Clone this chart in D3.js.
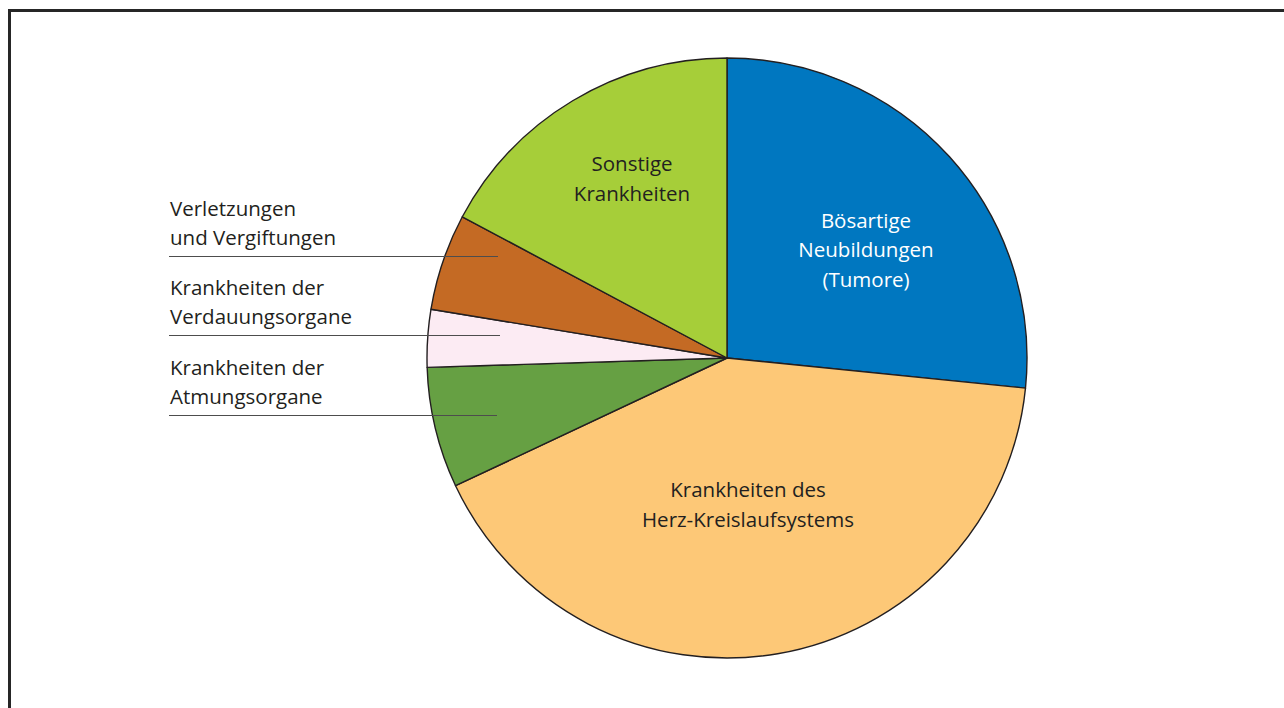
<!DOCTYPE html>
<html>
<head>
<meta charset="utf-8">
<script src="https://cdn.jsdelivr.net/npm/d3@7"></script>
<style>
  body { margin: 0; background: #fff; }
  svg { display: block; }
  text { font-family: "Open Sans", sans-serif; font-size: 20.5px; fill: #231f20; }
</style>
</head>
<body>
<script>
// Todesursachen - shares (percent)
const categories = [
  "Bösartige Neubildungen (Tumore)",
  "Krankheiten des Herz-Kreislaufsystems",
  "Krankheiten der Atmungsorgane",
  "Krankheiten der Verdauungsorgane",
  "Verletzungen und Vergiftungen",
  "Sonstige Krankheiten"
];
const values = [26.6, 41.4, 6.5, 3.1, 5.2, 17.2];
const colors = ["#0077c0", "#fdc877", "#66a043", "#fcebf3", "#c46a24", "#a6ce39"];
// label text lines per slice
const labelLines = [
  ["Bösartige", "Neubildungen", "(Tumore)"],
  ["Krankheiten des", "Herz-Kreislaufsystems"],
  ["Krankheiten der", "Atmungsorgane"],
  ["Krankheiten der", "Verdauungsorgane"],
  ["Verletzungen", "und Vergiftungen"],
  ["Sonstige", "Krankheiten"]
];
const outside = [false, false, true, true, true, false];

const w = 1284, h = 708;
const cx = 727, cy = 358, r = 300;
const lineH = 29.5;

// layout: label centres (relative to pie centre) for inside labels,
// leader-line y and end x for outside labels
const insideAt = [[139, -108], [21, 147], null, null, null, [-95, -179]];
const leaderY = [null, null, 415, 335, 256, null];
const leaderEnd = [null, null, 497, 500, 498, null];

const svg = d3.select('body')
  .append('svg')
  .attr('width', w)
  .attr('height', h);

// frame (top + left edge)
svg.append('path')
  .attr('d', `M9.5,${h} V10.5 H${w}`)
  .attr('fill', 'none')
  .attr('stroke', '#262626')
  .attr('stroke-width', 3);

const pie = d3.pie().sort(null).value(d => d);
const arcs = pie(values);
const arc = d3.arc().innerRadius(0).outerRadius(r);

const g = svg.append('g').attr('transform', `translate(${cx},${cy})`);

g.selectAll('path.slice')
  .data(arcs)
  .enter()
  .append('path')
  .attr('class', 'slice')
  .attr('d', arc)
  .attr('fill', (d, i) => colors[i])
  .attr('stroke', '#231f20')
  .attr('stroke-width', 1.4)
  .attr('stroke-linejoin', 'round');

// inside labels
arcs.forEach((a, i) => {
  if (outside[i]) return;
  const c = insideAt[i];
  const lines = labelLines[i];
  const y0 = c[1] - (lines.length - 1) * lineH / 2 + 7;
  g.append('text')
    .attr('text-anchor', 'middle')
    .style('fill', i === 0 ? '#ffffff' : '#231f20')
    .selectAll('tspan')
    .data(lines)
    .enter()
    .append('tspan')
    .attr('x', c[0])
    .attr('y', (d, j) => y0 + j * lineH)
    .text(d => d);
});

// outside labels with leader lines (left side)
const leaderX0 = 169, textX = 170;
arcs.forEach((a, i) => {
  if (!outside[i]) return;
  const ly = leaderY[i] + 0.5;
  svg.append('line')
    .attr('x1', leaderX0).attr('x2', leaderEnd[i])
    .attr('y1', ly).attr('y2', ly)
    .attr('stroke', '#4d4d4d')
    .attr('stroke-width', 1.2);
  const lines = labelLines[i];
  svg.append('text')
    .selectAll('tspan')
    .data(lines)
    .enter()
    .append('tspan')
    .attr('x', textX)
    .attr('y', (d, j) => ly - 12 - (lines.length - 1 - j) * 29)
    .text(d => d);
});
</script>
</body>
</html>
